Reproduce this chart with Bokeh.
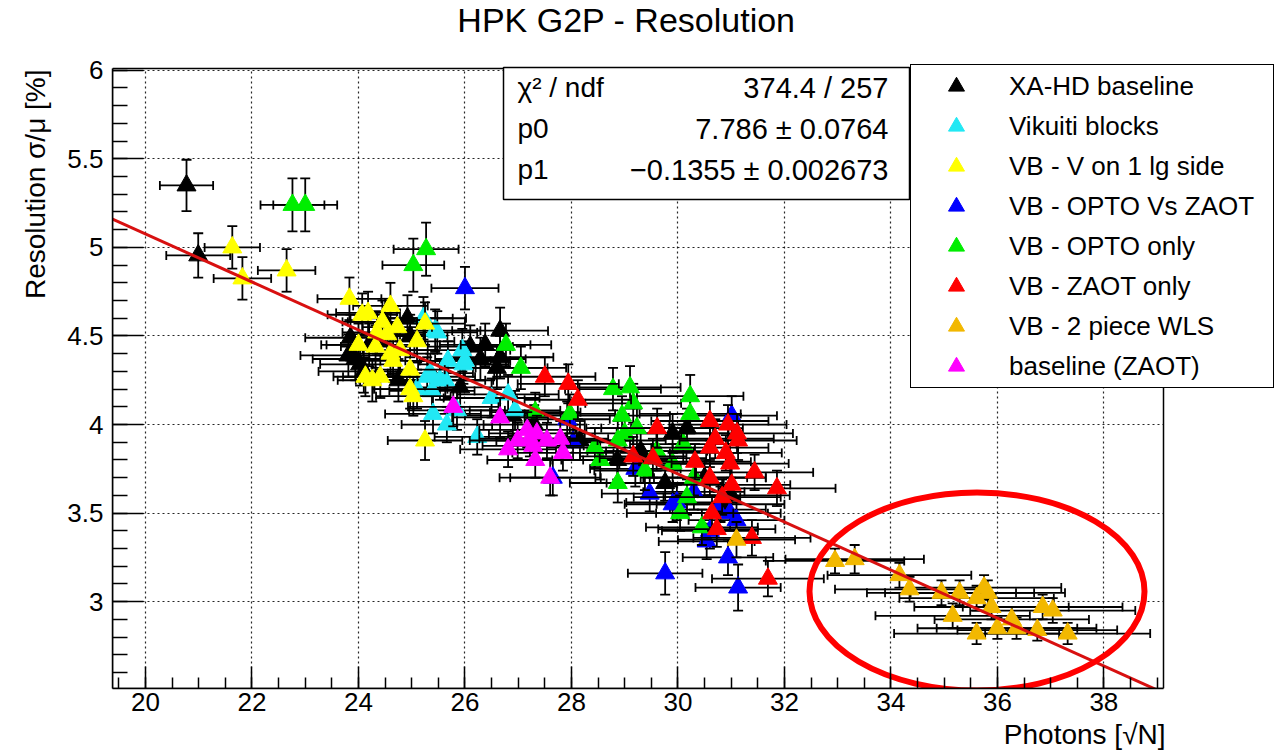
import math
from bokeh.plotting import figure
from bokeh.models import (ColumnDataSource, Label, BoxAnnotation, Legend, LegendItem, Title,
                          SingleIntervalTicker, Range1d, CustomJSTickFormatter)
from bokeh.embed import file_html
from bokeh.resources import INLINE

# ---------------- data ----------------
BLACK_X = [20.77, 20.99, 23.85, 23.94, 23.81, 24.03, 24.75, 24.92, 24.97, 24.20, 24.50, 24.10, 26.66, 26.29, 26.10,
           26.60, 25.91, 26.66, 26.38, 26.90, 27.30, 28.16, 28.86, 29.76, 30.17, 29.30, 30.50, 31.00, 29.90, 30.80]
BLACK_Y = [5.35, 4.955, 4.49, 4.37, 4.39, 4.34, 4.25, 4.60, 4.50, 4.45, 4.58, 4.30, 4.53, 4.37, 4.44,
           4.32, 4.21, 4.38, 4.45, 4.05, 4.00, 3.91, 3.80, 3.67, 3.98, 3.85, 3.70, 3.60, 3.95, 3.55]
BLACK_XERR = [0.50, 0.60, 0.85, 0.80, 0.90, 0.75, 0.80, 0.85, 0.70, 0.90, 0.80, 0.85, 0.90, 0.85, 0.80,
              0.95, 0.90, 1.00, 0.85, 0.90, 0.95, 1.00, 1.05, 1.10, 1.05, 1.00, 1.15, 1.10, 1.05, 1.20]
BLACK_YERR = [0.145, 0.125, 0.13, 0.12, 0.12, 0.12, 0.12, 0.13, 0.12, 0.12, 0.13, 0.12, 0.13, 0.12, 0.12,
              0.12, 0.11, 0.12, 0.12, 0.11, 0.11, 0.11, 0.11, 0.10, 0.11, 0.11, 0.10, 0.10, 0.11, 0.10]

CYAN_X = [25.22, 25.44, 25.48, 25.95, 25.97, 25.68, 25.29, 25.53, 25.38, 25.40, 25.66, 26.23, 25.85, 26.81, 26.94,
          25.35, 25.63, 26.00, 25.10, 26.50]
CYAN_Y = [4.60, 4.53, 4.52, 4.42, 4.34, 4.36, 4.27, 4.25, 4.19, 4.06, 4.00, 3.93, 4.08, 4.17, 4.08,
          4.29, 4.25, 4.36, 4.20, 4.15]
CYAN_XERR = [0.80, 0.85, 0.75, 0.90, 0.85, 0.80, 0.90, 0.85, 0.80, 0.90, 0.85, 0.80, 0.90, 0.95, 0.85,
             0.80, 0.90, 0.85, 0.80, 0.90]
CYAN_YERR = [0.12, 0.12, 0.12, 0.12, 0.11, 0.11, 0.11, 0.11, 0.11, 0.11, 0.10, 0.10, 0.11, 0.11, 0.11,
             0.11, 0.11, 0.11, 0.11, 0.11]

YELLOW_X = [21.63, 21.82, 22.65, 23.83, 24.07, 24.18, 24.60, 24.45, 24.00, 24.32, 24.54, 24.73, 25.10, 25.25, 24.26,
            24.41, 24.97, 25.03, 24.97, 24.65, 24.78, 24.13, 25.25, 24.35, 24.60]
YELLOW_Y = [5.00, 4.825, 4.87, 4.71, 4.62, 4.63, 4.67, 4.58, 4.45, 4.44, 4.51, 4.55, 4.47, 4.57, 4.25,
            4.27, 4.31, 4.16, 4.20, 4.36, 4.42, 4.27, 3.91, 4.52, 4.40]
YELLOW_XERR = [0.52, 0.54, 0.54, 0.60, 0.65, 0.60, 0.70, 0.65, 0.60, 0.65, 0.70, 0.65, 0.70, 0.75, 0.65,
               0.70, 0.65, 0.70, 0.70, 0.65, 0.70, 0.60, 0.70, 0.65, 0.70]
YELLOW_YERR = [0.12, 0.12, 0.12, 0.12, 0.12, 0.12, 0.13, 0.12, 0.12, 0.12, 0.12, 0.12, 0.12, 0.12, 0.12,
               0.12, 0.11, 0.11, 0.11, 0.12, 0.12, 0.11, 0.11, 0.12, 0.12]

BLUE_X = [26.00, 27.65, 28.03, 27.92, 29.47, 29.98, 29.76, 30.94, 31.13, 30.54, 30.98, 31.10, 31.01, 30.60, 29.90,
          30.30, 29.20, 30.75]
BLUE_Y = [4.77, 3.70, 3.90, 4.03, 3.61, 3.56, 3.16, 3.25, 3.08, 3.34, 3.50, 3.46, 4.05, 3.40, 3.55,
          3.62, 3.75, 3.52]
BLUE_XERR = [0.63, 0.80, 0.85, 0.80, 0.90, 0.95, 0.70, 0.85, 0.80, 0.90, 0.95, 0.90, 0.85, 0.90, 0.90,
             0.95, 0.85, 0.90]
BLUE_YERR = [0.12, 0.10, 0.10, 0.10, 0.10, 0.10, 0.12, 0.10, 0.13, 0.10, 0.10, 0.10, 0.11, 0.10, 0.10,
             0.10, 0.10, 0.10]

GREEN_X = [22.76, 23.00, 25.27, 25.03, 26.77, 27.05, 28.78, 29.10, 29.16, 28.95, 30.23, 30.23, 28.87, 28.54, 29.38,
           28.87, 30.10, 30.04, 30.17, 30.45, 27.97, 27.32, 29.23, 28.44, 29.90, 29.60, 30.30, 29.00]
GREEN_Y = [5.24, 5.24, 4.99, 4.90, 4.45, 4.32, 4.20, 4.21, 4.12, 4.05, 4.16, 4.06, 3.91, 3.80, 3.74,
           3.67, 3.89, 3.50, 3.59, 3.42, 4.06, 4.07, 3.98, 3.87, 3.78, 3.85, 3.70, 3.95]
GREEN_XERR = [0.60, 0.60, 0.61, 0.58, 0.85, 0.85, 0.90, 0.95, 0.90, 0.90, 1.00, 0.95, 0.90, 0.90, 0.95,
              0.90, 1.00, 1.00, 1.00, 1.05, 0.85, 0.85, 0.95, 0.90, 1.00, 0.95, 1.00, 0.90]
GREEN_YERR = [0.15, 0.15, 0.15, 0.15, 0.12, 0.12, 0.12, 0.12, 0.11, 0.11, 0.12, 0.11, 0.11, 0.11, 0.11,
              0.11, 0.11, 0.10, 0.10, 0.10, 0.11, 0.11, 0.11, 0.11, 0.11, 0.11, 0.10, 0.11]

RED_X = [27.50, 27.94, 28.12, 29.16, 29.53, 29.61, 30.60, 30.94, 31.11, 30.60, 30.32, 30.98, 31.44, 31.86, 30.60,
         30.83, 31.01, 30.64, 30.73, 31.39, 31.69, 30.70, 31.13, 30.90]
RED_Y = [4.27, 4.23, 4.14, 3.82, 3.81, 3.98, 4.02, 4.00, 3.95, 3.87, 3.79, 3.78, 3.73, 3.64, 3.70,
         3.59, 3.66, 3.50, 3.41, 3.36, 3.13, 3.92, 3.91, 3.84]
RED_XERR = [0.95, 0.95, 1.00, 1.00, 1.00, 1.05, 1.10, 1.10, 1.05, 1.10, 1.05, 1.10, 1.10, 1.10, 1.05,
            1.10, 1.10, 1.05, 1.10, 1.10, 1.05, 1.10, 1.10, 1.05]
RED_YERR = [0.11, 0.11, 0.11, 0.11, 0.11, 0.11, 0.11, 0.11, 0.11, 0.11, 0.10, 0.11, 0.10, 0.10, 0.10,
            0.10, 0.10, 0.10, 0.10, 0.10, 0.10, 0.11, 0.11, 0.10]

ORANGE_X = [32.95, 33.32, 34.16, 34.35, 34.95, 35.16, 35.29, 35.61, 35.61, 35.82, 35.89, 36.00, 36.27, 36.36, 36.75,
            36.85, 37.04, 37.32, 35.75, 31.10]
ORANGE_Y = [3.23, 3.24, 3.15, 3.07, 3.05, 2.92, 3.05, 3.02, 2.82, 3.05, 2.97, 2.85, 2.90, 2.85, 2.84,
            2.97, 2.95, 2.82, 3.08, 3.35]
ORANGE_XERR = [1.30, 1.30, 1.35, 1.40, 1.40, 1.45, 1.40, 1.45, 1.55, 1.45, 1.45, 1.50, 1.45, 1.50, 1.50,
               1.50, 1.55, 1.55, 1.45, 1.10]
ORANGE_YERR = [0.07, 0.08, 0.07, 0.07, 0.07, 0.07, 0.07, 0.07, 0.06, 0.07, 0.07, 0.06, 0.07, 0.06, 0.06,
               0.07, 0.07, 0.06, 0.07, 0.10]

MAGENTA_X = [25.78, 26.66, 26.81, 27.22, 27.35, 27.54, 27.79, 27.84, 27.32, 27.60, 26.99, 27.17, 27.28]
MAGENTA_Y = [4.10, 4.04, 3.86, 3.92, 3.95, 3.91, 3.92, 3.84, 3.80, 3.70, 3.91, 3.97, 3.88]
MAGENTA_XERR = [0.85, 0.90, 0.90, 0.95, 0.90, 0.95, 0.90, 0.95, 0.90, 0.95, 0.90, 0.90, 0.95]
MAGENTA_YERR = [0.11, 0.11, 0.10, 0.10, 0.10, 0.10, 0.10, 0.10, 0.10, 0.10, 0.10, 0.10, 0.10]

SERIES_NAMES = ["XA-HD baseline", "Vikuiti blocks", "VB - V on 1 lg side", "VB - OPTO Vs ZAOT",
                "VB - OPTO only", "VB - ZAOT only", "VB - 2 piece WLS", "baseline (ZAOT)"]
SERIES_COLORS = ["#000000", "#22e8f4", "#ffff00", "#0000ff", "#00ee00", "#ff0000", "#f2b800", "#ff00ff"]

FIT_P0 = 7.786
FIT_P0_ERR = "0.0764"
FIT_P1 = -0.1355
FIT_P1_ERR = "0.002673"
CHI2 = "374.4"
NDF = "257"

TITLE = "HPK G2P - Resolution"
X_TITLE = "Photons [\u221aN]"
Y_TITLE = "Resolution \u03c3/\u03bc [%]"

# ---------------- layout constants ----------------
W, H = 1274, 756
FL, FR, FT, FB = 112, 1163, 68, 688          # visible plot frame (pixels)
XMIN, XMAX = 19.38, 39.12                    # visible axis ranges
YMIN, YMAX = 2.51, 6.01
XPX = (FR - FL) / (XMAX - XMIN)
YPX = (FB - FT) / (YMAX - YMIN)
X_EXT = XMIN + (W - FL) / XPX                # canvas frame extended to the right edge
Y_EXT = YMAX + FT / YPX                      # and up to the top edge
FONT = "Liberation Sans"


def px2x(px):
    return XMIN + (px - FL) / XPX


def py2y(py):
    return YMAX - (py - FT) / YPX


p = figure(width=W, height=H, x_range=Range1d(XMIN, X_EXT), y_range=Range1d(YMIN, Y_EXT),
           output_backend="svg", toolbar_location=None, title=None,
           min_border_left=FL, min_border_right=0, min_border_top=0, min_border_bottom=H - FB)
p.background_fill_color = "white"
p.border_fill_color = "white"
p.outline_line_color = None

p.xaxis.ticker = SingleIntervalTicker(interval=2, num_minor_ticks=4)
p.yaxis.ticker = SingleIntervalTicker(interval=0.5, num_minor_ticks=5)
p.yaxis.formatter = CustomJSTickFormatter(code="return String(Math.round(tick*10)/10)")
p.xaxis.bounds = (XMIN, XMAX)
p.yaxis.bounds = (YMIN, YMAX)
for ax in (p.xaxis, p.yaxis):
    ax.axis_line_color = "black"
    ax.axis_line_width = 1.5
    ax.major_tick_line_color = "black"
    ax.major_tick_line_width = 1.5
    ax.minor_tick_line_color = "black"
    ax.minor_tick_line_width = 1.5
    ax.major_tick_out = 0
    ax.minor_tick_out = 0
    ax.major_label_text_font = FONT
    ax.major_label_text_font_size = "26px"
    ax.major_label_text_color = "black"
p.xaxis.major_tick_in = 22
p.xaxis.minor_tick_in = 11
p.yaxis.major_tick_in = 31
p.yaxis.minor_tick_in = 15
p.xaxis.major_label_standoff = 4
p.yaxis.major_label_standoff = 9

p.grid.grid_line_color = "black"
p.grid.grid_line_dash = "2 3"
p.grid.grid_line_width = 1.2
p.grid.grid_line_alpha = 0.85

data = [
    (BLACK_X, BLACK_Y, BLACK_XERR, BLACK_YERR),
    (CYAN_X, CYAN_Y, CYAN_XERR, CYAN_YERR),
    (YELLOW_X, YELLOW_Y, YELLOW_XERR, YELLOW_YERR),
    (BLUE_X, BLUE_Y, BLUE_XERR, BLUE_YERR),
    (GREEN_X, GREEN_Y, GREEN_XERR, GREEN_YERR),
    (RED_X, RED_Y, RED_XERR, RED_YERR),
    (ORANGE_X, ORANGE_Y, ORANGE_XERR, ORANGE_YERR),
    (MAGENTA_X, MAGENTA_Y, MAGENTA_XERR, MAGENTA_YERR),
]

items = []
for (xs, ys, xe, ye), name, color in zip(data, SERIES_NAMES, SERIES_COLORS):
    src = ColumnDataSource(dict(
        x=xs, y=ys,
        xl=[a - b for a, b in zip(xs, xe)], xh=[a + b for a, b in zip(xs, xe)],
        yl=[a - b for a, b in zip(ys, ye)], yh=[a + b for a, b in zip(ys, ye)],
    ))
    p.segment(x0="xl", y0="y", x1="xh", y1="y", source=src, line_color="black", line_width=1.8)
    p.segment(x0="x", y0="yl", x1="x", y1="yh", source=src, line_color="black", line_width=1.8)
    p.scatter(x="x", y="yl", marker="dash", size=10, source=src, line_color="black", line_width=1.8)
    p.scatter(x="x", y="yh", marker="dash", size=10, source=src, line_color="black", line_width=1.8)
    p.scatter(x="xl", y="y", marker="dash", angle=math.pi / 2, size=9, source=src, line_color="black", line_width=1.8)
    p.scatter(x="xh", y="y", marker="dash", angle=math.pi / 2, size=9, source=src, line_color="black", line_width=1.8)
    r = p.scatter(x="x", y="y", marker="triangle", size=19, source=src, fill_color=color, line_color=color)
    items.append(LegendItem(label=name, renderers=[r]))

# fit line
fx = [XMIN, XMAX]
fy = [FIT_P0 + FIT_P1 * v for v in fx]
p.line(fx, fy, line_color="#d81010", line_width=3)

# red highlight ellipse (hand-drawn annotation on the original)
p.ellipse(x=px2x(976.5), y=py2y(591), width=335 / XPX, height=198 / YPX,
          fill_alpha=0, line_color="#ff0000", line_width=6)

# mask the extension of the canvas frame (top strip and right strip)
p.add_layout(BoxAnnotation(bottom=YMAX, fill_color="white", fill_alpha=1, line_alpha=0))
p.add_layout(BoxAnnotation(left=XMAX, fill_color="white", fill_alpha=1, line_alpha=0))
# visible frame outline
p.add_layout(BoxAnnotation(left=XMIN, right=XMAX, bottom=YMIN, top=YMAX, fill_alpha=0,
                           line_color="black", line_width=1.5, line_alpha=1))

# stats box
p.add_layout(BoxAnnotation(left=px2x(503), right=px2x(909), top=py2y(67), bottom=py2y(199),
                           fill_color="white", fill_alpha=1, line_color="black", line_width=1.5,
                           line_alpha=1))
stats_rows = [("\u03c7\u00b2 / ndf", f"{CHI2} / {NDF}"),
              ("p0", f"{FIT_P0:.3f} \u00b1 {FIT_P0_ERR}"),
              ("p1", f"\u2212{abs(FIT_P1):.4f} \u00b1 {FIT_P1_ERR}")]
for (lt, rt), rowy in zip(stats_rows, [87, 128, 169]):
    p.add_layout(Label(x=px2x(517), y=py2y(rowy), text=lt, text_align="left", text_baseline="middle",
                       text_font=FONT, text_font_size="28px", text_color="black"))
    p.add_layout(Label(x=px2x(888), y=py2y(rowy), text=rt, text_align="right", text_baseline="middle",
                       text_font=FONT, text_font_size="29px", text_color="black"))

# legend
legend = Legend(items=items, location=(910 - FL, FB - 388), orientation="vertical",
                border_line_color="black", border_line_width=1.5, border_line_alpha=1,
                background_fill_color="white", background_fill_alpha=1,
                label_text_font=FONT, label_text_font_size="26px", label_text_color="black",
                glyph_height=40, glyph_width=88, label_height=40, spacing=0, padding=1, margin=0,
                label_standoff=9, label_width=263)
p.add_layout(legend)

# main title (inside the extended canvas frame, above the visible frame)
p.add_layout(Label(x=px2x(626), y=py2y(19), text=TITLE, text_align="center", text_baseline="middle",
                   text_font=FONT, text_font_size="34px", text_color="black"))

# axis titles
p.add_layout(Title(text=X_TITLE, align="right", offset=W - 1165, standoff=6,
                   text_font=FONT, text_font_size="28px", text_font_style="normal", text_color="black"),
             "below")
p.add_layout(Title(text=Y_TITLE, align="right", offset=69, standoff=24, vertical_align="top",
                   text_font=FONT, text_font_size="28px", text_font_style="normal", text_color="black"),
             "left")

open("out.html", "w").write(file_html(p, INLINE))
